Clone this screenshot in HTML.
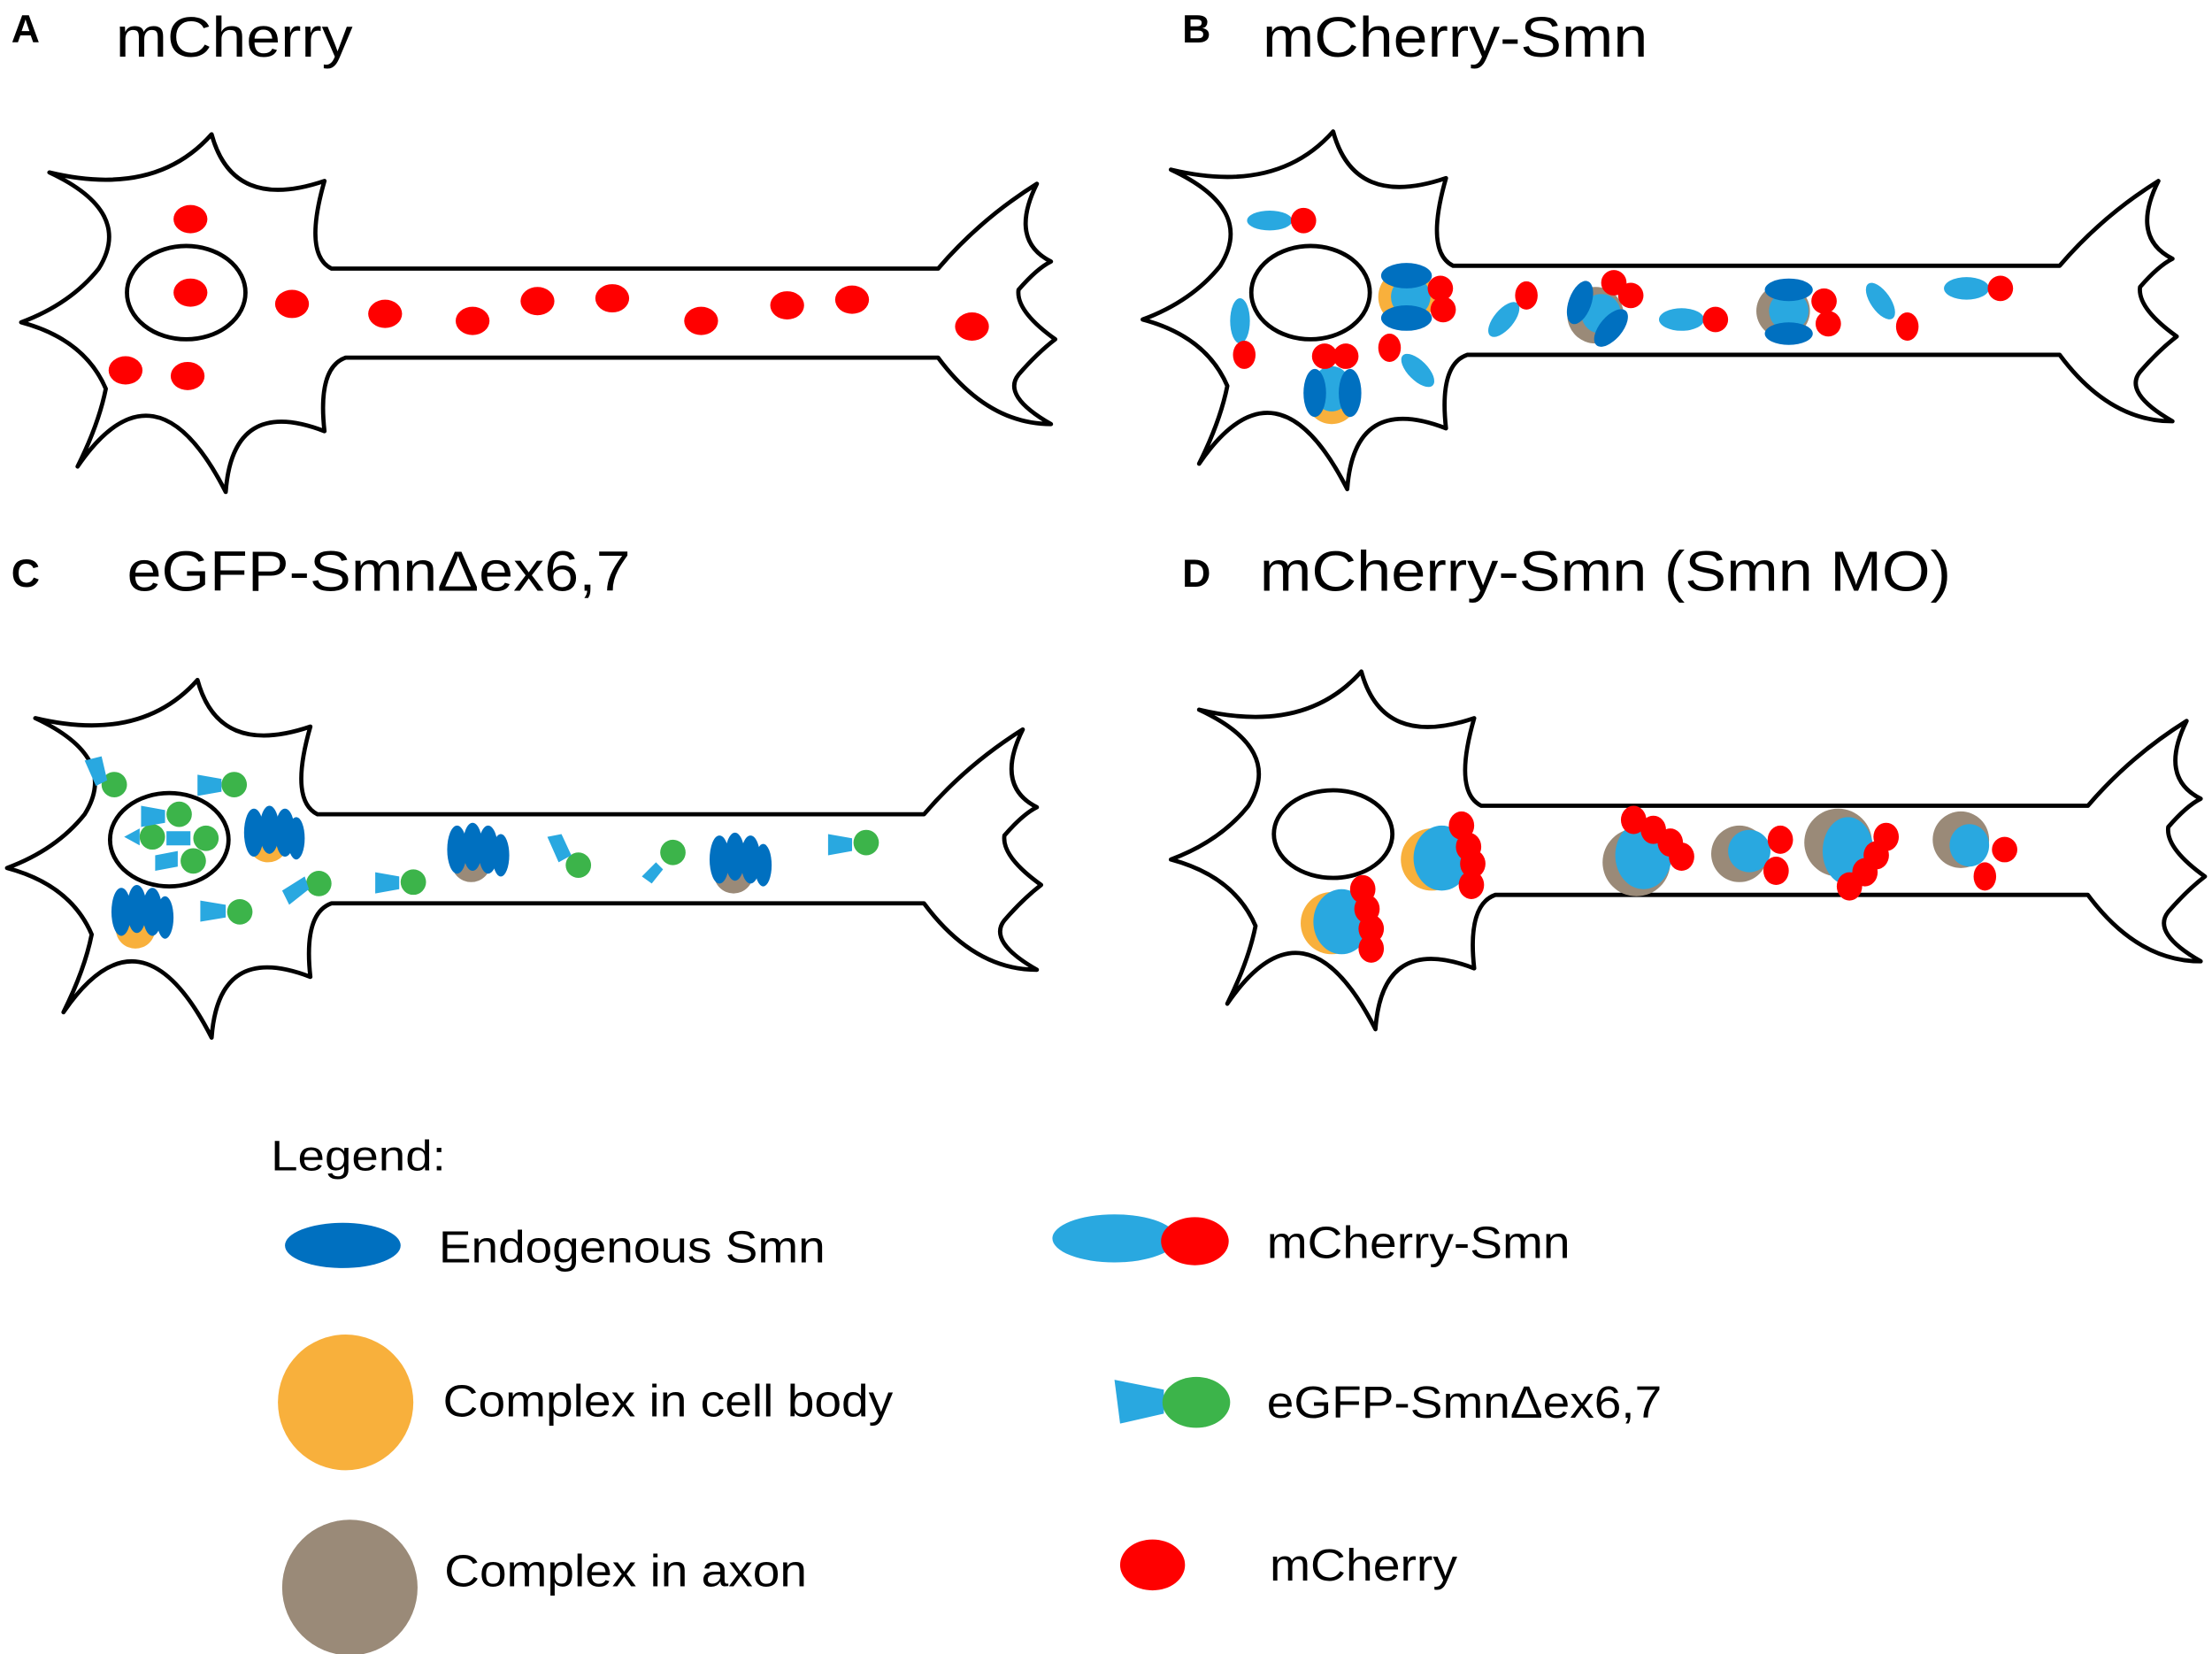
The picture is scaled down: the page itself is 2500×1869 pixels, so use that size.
<!DOCTYPE html>
<html><head><meta charset="utf-8"><style>
html,body{margin:0;padding:0;background:#fff;}
svg{display:block;}
text{font-family:"Liberation Sans",Arial,sans-serif;fill:#000;}
</style></head><body>
<svg width="2500" height="1869" viewBox="0 0 1568 1170" preserveAspectRatio="none" xmlns="http://www.w3.org/2000/svg">
<defs>
<path id="neuron" d="M35,122 Q95,150 70,190 Q50,215 15,228 Q60,240 75,275 Q70,300 55,330 Q110,250 160,348 Q165,280 230,305 Q225,260 245,253 L665,253 Q700,300 745,300 Q710,280 722,265 Q735,250 748,240 Q720,220 722,205 Q735,190 745,185 Q715,170 735,130 Q695,155 665,190 L235,190 Q215,180 230,128 Q165,150 150,95 Q110,140 35,122 Z" fill="none" stroke="#000" stroke-width="3" stroke-linejoin="round"/>
</defs>

<!-- Panel A -->
<text x="8" y="30" font-size="28" font-weight="bold">A</text>
<text x="82" y="40" font-size="40" textLength="168" lengthAdjust="spacingAndGlyphs">mCherry</text>
<use href="#neuron"/>
<ellipse cx="132" cy="207" rx="42" ry="33" fill="none" stroke="#000" stroke-width="3"/>
<g fill="#ff0000">
<ellipse cx="135" cy="155" rx="12" ry="10"/><ellipse cx="135" cy="207" rx="12" ry="10"/>
<ellipse cx="207" cy="215" rx="12" ry="10"/><ellipse cx="273" cy="222" rx="12" ry="10"/>
<ellipse cx="335" cy="227" rx="12" ry="10"/><ellipse cx="381" cy="213" rx="12" ry="10"/>
<ellipse cx="434" cy="211" rx="12" ry="10"/><ellipse cx="497" cy="227" rx="12" ry="10"/>
<ellipse cx="558" cy="216" rx="12" ry="10"/><ellipse cx="604" cy="212" rx="12" ry="10"/>
<ellipse cx="689" cy="231" rx="12" ry="10"/><ellipse cx="89" cy="262" rx="12" ry="10"/>
<ellipse cx="133" cy="266" rx="12" ry="10"/>
</g>

<!-- Panel B -->
<text x="838" y="30" font-size="28" font-weight="bold">B</text>
<text x="895" y="40" font-size="40" textLength="273" lengthAdjust="spacingAndGlyphs">mCherry-Smn</text>
<g transform="translate(795,-2)"><use href="#neuron"/></g>
<ellipse cx="929" cy="207" rx="42" ry="33" fill="none" stroke="#000" stroke-width="3"/>
<g>
<ellipse cx="900" cy="156" rx="16" ry="7" fill="#29a8e0"/><circle cx="924" cy="156" r="9" fill="#f00"/>
<ellipse cx="879" cy="227" rx="7" ry="16" fill="#29a8e0"/><ellipse cx="882" cy="251" rx="8" ry="10" fill="#f00"/>
<circle cx="997" cy="210" r="20" fill="#f8b03c"/><ellipse cx="1000" cy="210" rx="14" ry="14" fill="#29a8e0"/>
<ellipse cx="997" cy="195" rx="18" ry="9" fill="#0070c0"/><ellipse cx="997" cy="225" rx="18" ry="9" fill="#0070c0"/>
<circle cx="1021" cy="204" r="9" fill="#f00"/><circle cx="1023" cy="219" r="9" fill="#f00"/>
<ellipse cx="1066" cy="226" rx="7" ry="15" transform="rotate(40 1066 226)" fill="#29a8e0"/><ellipse cx="1082" cy="209" rx="8" ry="10" fill="#f00"/>
<circle cx="944" cy="282" r="18" fill="#f8b03c"/><ellipse cx="944" cy="275" rx="14" ry="16" fill="#29a8e0"/>
<ellipse cx="932" cy="278" rx="8" ry="17" fill="#0070c0"/><ellipse cx="957" cy="278" rx="8" ry="17" fill="#0070c0"/>
<circle cx="939" cy="252" r="9" fill="#f00"/><circle cx="954" cy="252" r="9" fill="#f00"/>
<ellipse cx="985" cy="246" rx="8" ry="10" fill="#f00"/><ellipse cx="1005" cy="262" rx="7" ry="15" transform="rotate(-45 1005 262)" fill="#29a8e0"/>
<circle cx="1131" cy="223" r="20" fill="#9a8a78"/><ellipse cx="1135" cy="222" rx="14" ry="14" fill="#29a8e0"/>
<ellipse cx="1120" cy="214" rx="8" ry="16" transform="rotate(20 1120 214)" fill="#0070c0"/><ellipse cx="1142" cy="232" rx="8" ry="16" transform="rotate(40 1142 232)" fill="#0070c0"/>
<circle cx="1144" cy="200" r="9" fill="#f00"/><circle cx="1156" cy="209" r="9" fill="#f00"/>
<ellipse cx="1192" cy="226" rx="16" ry="8" fill="#29a8e0"/><ellipse cx="1216" cy="226" rx="9" ry="9" fill="#f00"/>
<circle cx="1264" cy="220" r="19" fill="#9a8a78"/><ellipse cx="1268" cy="220" rx="14" ry="14" fill="#29a8e0"/>
<ellipse cx="1268" cy="205" rx="17" ry="8" fill="#0070c0"/><ellipse cx="1268" cy="236" rx="17" ry="8" fill="#0070c0"/>
<circle cx="1293" cy="213" r="9" fill="#f00"/><circle cx="1296" cy="229" r="9" fill="#f00"/>
<ellipse cx="1333" cy="213" rx="7" ry="15" transform="rotate(-35 1333 213)" fill="#29a8e0"/><ellipse cx="1352" cy="231" rx="8" ry="10" fill="#f00"/>
<ellipse cx="1394" cy="204" rx="16" ry="8" fill="#29a8e0"/><circle cx="1418" cy="204" r="9" fill="#f00"/>
</g>

<!-- Panel C -->
<text x="8" y="415" font-size="28" font-weight="bold">C</text>
<text x="90" y="418" font-size="40" textLength="357" lengthAdjust="spacingAndGlyphs">eGFP-SmnΔex6,7</text>
<g transform="translate(-10,386)"><use href="#neuron"/></g>
<ellipse cx="120" cy="594" rx="42" ry="33" fill="none" stroke="#000" stroke-width="3"/>
<g fill="#3cb44a">
<circle cx="81" cy="555" r="9"/><circle cx="166" cy="555" r="9"/><circle cx="127" cy="576" r="9"/>
<circle cx="108" cy="592" r="9"/><circle cx="146" cy="593" r="9"/><circle cx="137" cy="609" r="9"/>
<circle cx="170" cy="645" r="9"/><circle cx="226" cy="625" r="9"/><circle cx="293" cy="624" r="9"/>
<circle cx="410" cy="612" r="9"/><circle cx="477" cy="603" r="9"/><circle cx="614" cy="596" r="9"/>
</g>
<g fill="#29a8e0">
<polygon points="60,538 72,535 76,552 68,556"/><polygon points="140,548 157,551 157,560 140,563"/>
<polygon points="100,570 117,573 117,582 100,585"/><polygon points="88,592 99,586 99,598"/>
<polygon points="118,588 135,588 135,598 118,598"/><polygon points="110,605 126,602 126,613 110,616"/>
<polygon points="142,637 160,640 160,649 142,652"/><polygon points="200,630 216,620 219,629 205,640"/>
<polygon points="266,617 283,620 283,629 266,632"/><polygon points="388,592 398,590 405,605 396,610"/>
<polygon points="455,620 465,610 470,615 462,625"/><polygon points="587,590 604,593 604,602 587,605"/>
</g>
<g>
<circle cx="190" cy="596" r="14" fill="#f8b03c"/><circle cx="96" cy="657" r="14" fill="#f8b03c"/>
<circle cx="334" cy="610" r="14" fill="#9a8a78"/><circle cx="520" cy="618" r="14" fill="#9a8a78"/>
</g>
<g fill="#0070c0">
<ellipse cx="180" cy="589" rx="7" ry="17"/><ellipse cx="191" cy="587" rx="7" ry="17"/><ellipse cx="202" cy="589" rx="7" ry="17"/><ellipse cx="210" cy="593" rx="6" ry="15"/>
<ellipse cx="86" cy="645" rx="7" ry="17"/><ellipse cx="97" cy="643" rx="7" ry="17"/><ellipse cx="108" cy="645" rx="7" ry="17"/><ellipse cx="117" cy="649" rx="6" ry="15"/>
<ellipse cx="324" cy="601" rx="7" ry="17"/><ellipse cx="335" cy="599" rx="7" ry="17"/><ellipse cx="346" cy="601" rx="7" ry="17"/><ellipse cx="355" cy="605" rx="6" ry="15"/>
<ellipse cx="510" cy="608" rx="7" ry="17"/><ellipse cx="521" cy="606" rx="7" ry="17"/><ellipse cx="532" cy="608" rx="7" ry="17"/><ellipse cx="541" cy="612" rx="6" ry="15"/>
</g>

<!-- Panel D -->
<text x="838" y="415" font-size="28" font-weight="bold">D</text>
<text x="893" y="418" font-size="40" textLength="490" lengthAdjust="spacingAndGlyphs">mCherry-Smn (Smn MO)</text>
<g transform="translate(815,380)"><use href="#neuron"/></g>
<ellipse cx="945" cy="590" rx="42" ry="31" fill="none" stroke="#000" stroke-width="3"/>
<g>
<circle cx="1015" cy="608" r="22" fill="#f8b03c"/><ellipse cx="1022" cy="607" rx="20" ry="23" fill="#29a8e0"/>
<circle cx="944" cy="653" r="22" fill="#f8b03c"/><ellipse cx="951" cy="652" rx="20" ry="23" fill="#29a8e0"/>
<circle cx="1160" cy="610" r="24" fill="#9a8a78"/><ellipse cx="1165" cy="605" rx="20" ry="24" fill="#29a8e0"/>
<circle cx="1233" cy="604" r="20" fill="#9a8a78"/><ellipse cx="1240" cy="602" rx="15" ry="15" fill="#29a8e0"/>
<circle cx="1303" cy="596" r="24" fill="#9a8a78"/><ellipse cx="1310" cy="602" rx="18" ry="24" fill="#29a8e0"/>
<circle cx="1390" cy="594" r="20" fill="#9a8a78"/><ellipse cx="1396" cy="598" rx="14" ry="15" fill="#29a8e0"/>
</g>
<g fill="#f00">
<ellipse cx="1036" cy="584" rx="9" ry="10"/><ellipse cx="1041" cy="599" rx="9" ry="10"/><ellipse cx="1044" cy="611" rx="9" ry="10"/><ellipse cx="1043" cy="626" rx="9" ry="10"/>
<ellipse cx="966" cy="629" rx="9" ry="10"/><ellipse cx="969" cy="643" rx="9" ry="10"/><ellipse cx="972" cy="657" rx="9" ry="10"/><ellipse cx="972" cy="671" rx="9" ry="10"/>
<ellipse cx="1158" cy="580" rx="9" ry="10"/><ellipse cx="1172" cy="587" rx="9" ry="10"/><ellipse cx="1184" cy="596" rx="9" ry="10"/><ellipse cx="1192" cy="606" rx="9" ry="10"/>
<ellipse cx="1262" cy="594" rx="9" ry="10"/><ellipse cx="1259" cy="616" rx="9" ry="10"/>
<ellipse cx="1337" cy="592" rx="9" ry="10"/><ellipse cx="1330" cy="605" rx="9" ry="10"/><ellipse cx="1322" cy="617" rx="9" ry="10"/><ellipse cx="1311" cy="627" rx="9" ry="10"/>
<ellipse cx="1421" cy="601" rx="9" ry="9"/><ellipse cx="1407" cy="620" rx="8" ry="10"/>
</g>

<!-- Legend -->
<text x="192" y="828" font-size="30" textLength="124" lengthAdjust="spacingAndGlyphs">Legend:</text>
<ellipse cx="243" cy="881" rx="41" ry="16" fill="#0070c0"/>
<text x="311" y="893" font-size="32" textLength="274" lengthAdjust="spacingAndGlyphs">Endogenous Smn</text>
<circle cx="245" cy="992" r="48" fill="#f8b03c"/>
<text x="314" y="1002" font-size="32" textLength="319" lengthAdjust="spacingAndGlyphs">Complex in cell body</text>
<circle cx="248" cy="1123" r="48" fill="#9a8a78"/>
<text x="315" y="1122" font-size="32" textLength="257" lengthAdjust="spacingAndGlyphs">Complex in axon</text>
<ellipse cx="790" cy="876" rx="44" ry="17" fill="#29a8e0"/>
<ellipse cx="847" cy="878" rx="24" ry="17" fill="#f00"/>
<text x="898" y="890" font-size="32" textLength="215" lengthAdjust="spacingAndGlyphs">mCherry-Smn</text>
<polygon points="790,976 825,983 825,1000 794,1007" fill="#29a8e0"/>
<ellipse cx="848" cy="992" rx="24" ry="18" fill="#3cb44a"/>
<text x="898" y="1003" font-size="32" textLength="280" lengthAdjust="spacingAndGlyphs">eGFP-SmnΔex6,7</text>
<ellipse cx="817" cy="1107" rx="23" ry="18" fill="#f00"/>
<text x="900" y="1118" font-size="32" textLength="133" lengthAdjust="spacingAndGlyphs">mCherry</text>
</svg>
</body></html>
